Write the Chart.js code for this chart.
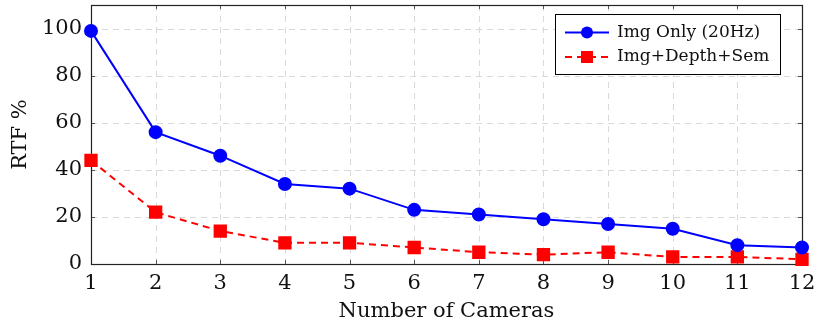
<!DOCTYPE html>
<html>
<head>
<meta charset="utf-8">
<script src="https://cdn.jsdelivr.net/npm/chart.js@4/dist/chart.umd.min.js"></script>
<style>
  html, body { margin: 0; padding: 0; background: #fff; }
  #wrap { position: relative; width: 817px; height: 326px; }
</style>
</head>
<body>
<div id="wrap"><canvas id="c" width="817" height="326"></canvas></div>
<script>
// Real-time factor vs. number of cameras
const cameras = [1, 2, 3, 4, 5, 6, 7, 8, 9, 10, 11, 12];
const imgOnly = [99, 56, 46, 34, 32, 23, 21, 19, 17, 15, 8, 7];
const imgDepthSem = [44, 22, 14, 9, 9, 7, 5, 4, 5, 3, 3, 2];
const xTicks = [1, 2, 3, 4, 5, 6, 7, 8, 9, 10, 11, 12];
const yTicks = [0, 20, 40, 60, 80, 100];
const seriesNames = ['Img Only (20Hz)', 'Img+Depth+Sem'];

const SERIF = '"DejaVu Serif", "Liberation Serif", serif';

// Dashed grid, full frame and inward tick marks, in the style of pgfplots
const framePlugin = {
  id: 'frame',
  beforeDatasetsDraw(chart) {
    const { ctx, chartArea: a, scales: { x, y } } = chart;
    ctx.save();
    ctx.strokeStyle = '#d9d9d9';
    ctx.lineWidth = 1;
    ctx.setLineDash([6, 5]);
    xTicks.forEach(v => {
      const px = Math.round(x.getPixelForValue(v)) + 0.5;
      ctx.beginPath(); ctx.moveTo(px, a.top); ctx.lineTo(px, a.bottom); ctx.stroke();
    });
    yTicks.forEach(v => {
      const py = Math.round(y.getPixelForValue(v)) + 0.5;
      ctx.beginPath(); ctx.moveTo(a.left, py); ctx.lineTo(a.right, py); ctx.stroke();
    });
    ctx.setLineDash([]);
    ctx.strokeStyle = '#555';
    const t = 4;
    xTicks.forEach(v => {
      const px = Math.round(x.getPixelForValue(v)) + 0.5;
      ctx.beginPath();
      ctx.moveTo(px, a.bottom); ctx.lineTo(px, a.bottom - t);
      ctx.moveTo(px, a.top); ctx.lineTo(px, a.top + t);
      ctx.stroke();
    });
    yTicks.forEach(v => {
      const py = Math.round(y.getPixelForValue(v)) + 0.5;
      ctx.beginPath();
      ctx.moveTo(a.left, py); ctx.lineTo(a.left + t, py);
      ctx.moveTo(a.right, py); ctx.lineTo(a.right - t, py);
      ctx.stroke();
    });
    ctx.strokeStyle = '#222';
    ctx.lineWidth = 1.2;
    ctx.strokeRect(Math.round(a.left) + 0.5, Math.round(a.top) + 0.5,
      Math.round(a.right - a.left), Math.round(a.bottom - a.top));
    ctx.restore();
  },
  afterDraw(chart) {
    // legend box in the upper right corner of the plot
    const { ctx, chartArea: a } = chart;
    const w = 225, h = 60;
    const bx = a.right - 22 - w, by = a.top + 9;
    ctx.save();
    ctx.fillStyle = '#fff';
    ctx.fillRect(bx, by, w, h);
    ctx.strokeStyle = '#000';
    ctx.lineWidth = 1;
    ctx.strokeRect(Math.round(bx) + 0.5, Math.round(by) + 0.5, w, h);
    chart.data.datasets.forEach((ds, i) => {
      const cy = by + 18.5 + i * 24.5;
      const x0 = bx + 10, x1 = bx + 54, xm = (x0 + x1) / 2;
      ctx.strokeStyle = ds.borderColor;
      ctx.lineWidth = ds.borderWidth;
      ctx.setLineDash(ds.borderDash || []);
      ctx.beginPath(); ctx.moveTo(x0, cy); ctx.lineTo(x1, cy); ctx.stroke();
      ctx.setLineDash([]);
      ctx.fillStyle = ds.pointBackgroundColor;
      if (ds.pointStyle === 'rect') {
        ctx.fillRect(xm - 6, cy - 6, 12, 12);
      } else {
        ctx.beginPath(); ctx.arc(xm, cy, 6, 0, Math.PI * 2); ctx.fill();
      }
      ctx.fillStyle = '#111';
      ctx.font = '17px ' + SERIF;
      ctx.textBaseline = 'middle';
      ctx.fillText(ds.label, x1 + 8, cy);
    });
    ctx.restore();
  }
};

new Chart(document.getElementById('c'), {
  type: 'line',
  data: {
    datasets: [
      {
        label: seriesNames[0],
        data: cameras.map((c, i) => ({ x: c, y: imgOnly[i] })),
        borderColor: '#0000ff',
        backgroundColor: '#0000ff',
        pointBackgroundColor: '#0000ff',
        pointBorderColor: '#0000ff',
        borderWidth: 2,
        pointStyle: 'circle',
        pointRadius: 6,
        pointHoverRadius: 6,
        tension: 0,
        clip: false
      },
      {
        label: seriesNames[1],
        data: cameras.map((c, i) => ({ x: c, y: imgDepthSem[i] })),
        borderColor: '#ff0000',
        backgroundColor: '#ff0000',
        pointBackgroundColor: '#ff0000',
        pointBorderColor: '#ff0000',
        borderWidth: 2,
        borderDash: [7, 5],
        pointStyle: 'rect',
        pointRadius: 8,
        pointHoverRadius: 8,
        tension: 0,
        clip: false
      }
    ]
  },
  options: {
    responsive: false,
    animation: false,
    events: [],
    layout: { autoPadding: false, padding: { top: 5, right: 15, left: 0, bottom: 0 } },
    plugins: { legend: { display: false }, tooltip: { enabled: false } },
    scales: {
      x: {
        type: 'linear',
        min: 1,
        max: 12,
        afterBuildTicks(s) { s.ticks = xTicks.map(v => ({ value: v })); },
        afterFit(s) { s.height = 62; s.paddingLeft = 0; s.paddingRight = 0; },
        grid: { display: false, drawTicks: false },
        border: { display: false },
        ticks: { color: '#111', font: { family: SERIF, size: 21 }, padding: 7, maxRotation: 0 },
        title: { display: true, text: 'Number of Cameras', color: '#111', font: { family: SERIF, size: 21 }, padding: { top: 3, bottom: 2 } }
      },
      y: {
        type: 'linear',
        min: 0,
        max: 110,
        afterBuildTicks(s) { s.ticks = yTicks.map(v => ({ value: v })); },
        afterFit(s) { s.width = 91; s.paddingTop = 0; s.paddingBottom = 0; },
        grid: { display: false, drawTicks: false },
        border: { display: false },
        ticks: { color: '#111', font: { family: SERIF, size: 21 }, padding: 9 },
        title: { display: true, text: 'RTF %', color: '#111', font: { family: SERIF, size: 21 }, padding: { top: 8, bottom: 0 } }
      }
    }
  },
  plugins: [framePlugin]
});
</script>
</body>
</html>
